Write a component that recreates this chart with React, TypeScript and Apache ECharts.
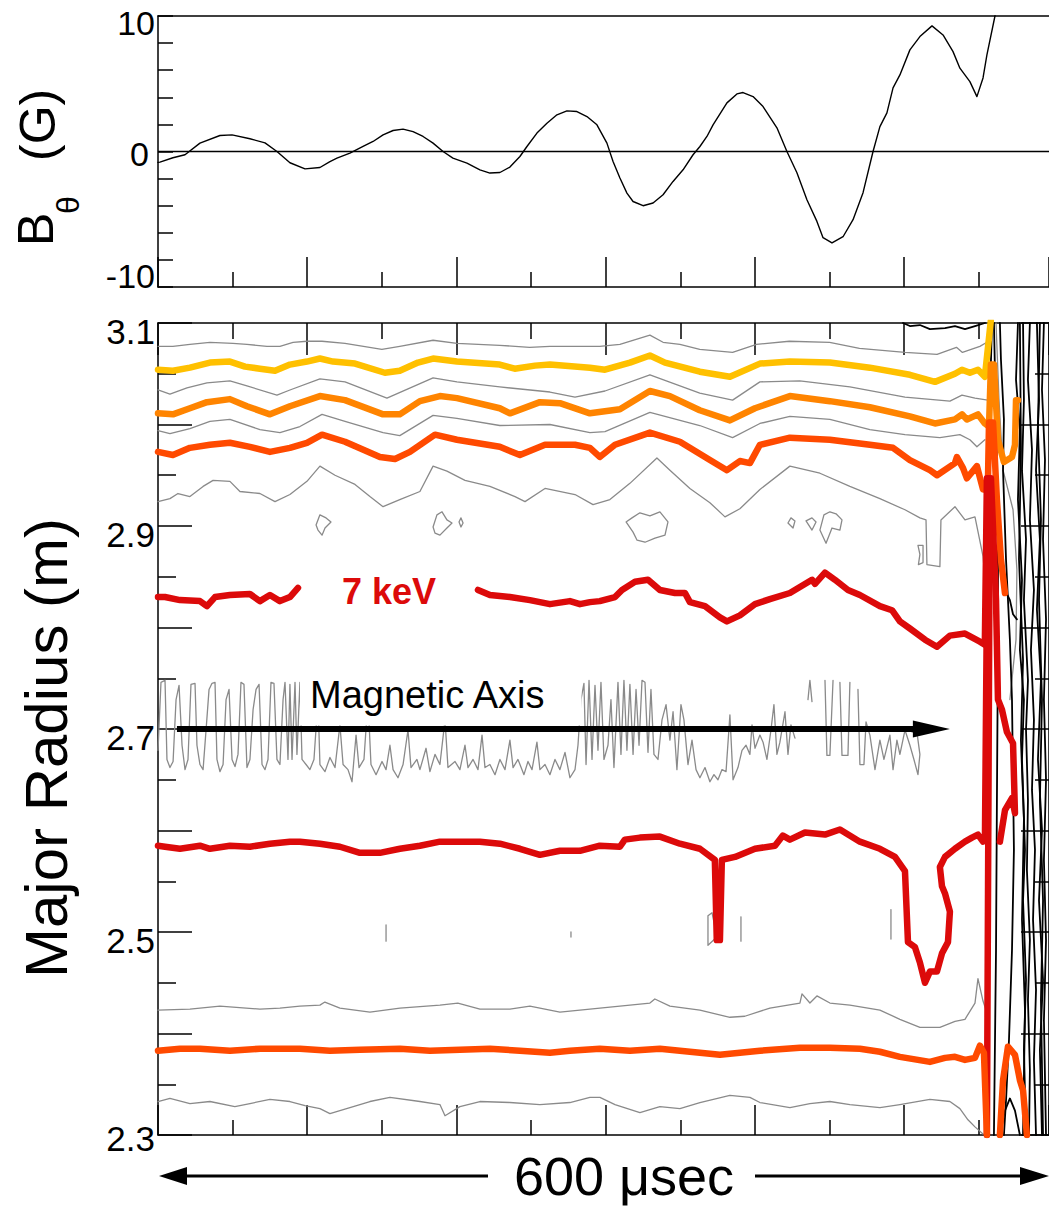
import React, { useEffect, useRef } from 'react';
import * as echarts from 'echarts';

type Pt = [number, number];

const FONT = '"Liberation Sans", Arial, Helvetica, sans-serif';
const T_MAX = 597; // µs across the plotted window

// ---------- top panel: B_theta (G) vs time (µs) ----------
const B_LABELS = [-10, 0, 10];
const B_THETA: Pt[] = [[0,-0.8],[1.3,-0.78],[10,-0.46],[18.1,-0.24],[28.1,0.62],[41.5,1.18],[49.6,1.23],[61.6,0.94],[71.7,0.64],[79.7,0],[88.4,-0.83],[98.5,-1.28],[108.5,-1.18],[115.2,-0.74],[119.9,-0.49],[128.6,-0.12],[137.4,0.37],[144.1,0.74],[150.8,1.23],[157.5,1.55],[164.2,1.65],[170.9,1.47],[177.6,1.11],[184.3,0.62],[191,0],[197.6,-0.49],[207,-0.86],[215.7,-1.35],[222.4,-1.59],[229.1,-1.55],[235.8,-1.15],[242.5,-0.37],[247.2,0.37],[253.9,1.36],[260.6,2.09],[267.3,2.71],[274,3.0],[280.7,2.95],[287.4,2.58],[294.1,1.97],[300.8,0.62],[304.9,-0.74],[309.5,-1.96],[314.2,-3.07],[318.3,-3.69],[325,-4.0],[331.7,-3.8],[338.4,-3.19],[345.1,-2.21],[351.8,-1.35],[358.5,-0.24],[363.1,0.37],[367.8,1.11],[371.9,1.97],[381.2,3.59],[387.9,4.25],[392,4.35],[398.7,4.05],[405.4,3.32],[414.7,1.75],[421.4,0],[428.1,-1.57],[434.8,-3.56],[441.5,-5.16],[445.6,-6.36],[451.6,-6.75],[459,-6.29],[465.7,-5.03],[472.4,-3.04],[479.1,0],[483.7,1.84],[488.4,2.85],[492.5,4.7],[497.1,5.65],[503.8,7.5],[510.5,8.48],[518.6,9.27],[526,8.6],[532.7,7.37],[537.3,6.15],[544,5.16],[548.7,4.05],[552.8,5.43],[555.4,7.13],[560.8,10.0],[562,10.8]];

// ---------- bottom panel: contours, Major Radius (m) vs time (µs) ----------
const R_LABELS = [2.3, 2.5, 2.7, 2.9, 3.1];
const AXIS_R = 2.70;
const AXIS_ARROW: Pt = [12.7, 518.2]; // start / head-centre time of the magnetic-axis arrow

const GRAY_A: Pt[] = [[0,3.077],[10,3.077],[21.4,3.079],[34.8,3.081],[50.2,3.080],[59.6,3.079],[73,3.077],[81.7,3.077],[90.5,3.081],[99.8,3.082],[109.9,3.082],[125.3,3.080],[150,3.074],[162,3.077],[184.3,3.083],[200.3,3.080],[229,3.078],[249,3.076],[262.6,3.077],[296,3.077],[309.5,3.079],[329.6,3.088],[338.4,3.081],[349.7,3.079],[363,3.074],[385,3.071],[401,3.079],[423,3.082],[450,3.081],[470,3.075],[500.5,3.071],[522,3.069],[535,3.076],[539,3.071],[550.7,3.077],[555.4,3.081]];
const YELLOW: Pt[] = [[0,3.054],[10,3.053],[21.4,3.056],[34.8,3.061],[48.2,3.062],[58.3,3.057],[68.3,3.055],[78.4,3.053],[88.4,3.059],[99.8,3.062],[108.5,3.065],[117.3,3.062],[132,3.060],[152,3.051],[162,3.053],[174.2,3.061],[184.3,3.065],[200.3,3.062],[229,3.059],[239,3.055],[252.6,3.058],[262.6,3.059],[289.4,3.056],[299.5,3.054],[316.2,3.061],[329.6,3.068],[339.7,3.061],[363,3.052],[383.2,3.047],[403.3,3.060],[423.4,3.062],[450.2,3.061],[477,3.056],[503.8,3.049],[520.6,3.042],[534,3.050],[538.7,3.054],[544,3.051],[549.4,3.054],[554,3.047],[558,3.102]];
const GRAY_C: Pt[] = [[0,3.034],[8,3.030],[19.4,3.036],[32.8,3.041],[48.2,3.043],[59.6,3.038],[79.7,3.029],[88.4,3.034],[108.5,3.045],[125.3,3.042],[153.4,3.026],[184.3,3.046],[200.3,3.042],[229,3.037],[262.6,3.032],[279.4,3.027],[299.5,3.033],[329.6,3.049],[363,3.031],[385,3.024],[403.3,3.042],[430,3.043],[463.6,3.037],[500.5,3.027],[530.6,3.023],[538.7,3.029],[547.4,3.026],[556,3.024]];
const ORANGE: Pt[] = [[0,3.011],[10,3.010],[21.4,3.016],[32.8,3.022],[48.2,3.025],[59.6,3.018],[75,3.010],[88.4,3.018],[108.5,3.028],[125.3,3.024],[150.8,3.010],[162,3.010],[175.5,3.023],[188.9,3.028],[200.3,3.026],[229,3.016],[235.8,3.011],[255.9,3.022],[269.3,3.021],[289.4,3.011],[309.5,3.015],[329.6,3.033],[343,3.028],[363,3.014],[383.2,3.004],[400,3.016],[423.4,3.028],[450.2,3.023],[477,3.017],[503.8,3.008],[520.6,3.001],[534,3.005],[538.7,3.010],[542,3.005],[549.4,3.010],[554,3.001],[556.8,2.998],[558.1,3.059],[560.1,3.059],[562.8,2.985],[566.8,2.963],[572.2,2.968],[574.2,2.980],[574.9,3.024],[576.2,3.024]];
const GRAY_E: Pt[] = [[0,2.994],[8,2.991],[21.4,2.996],[34.8,3.003],[48.2,3.005],[68.3,2.995],[81.7,2.992],[95.1,2.998],[109.9,3.010],[125.3,3.003],[150.8,2.992],[162,2.989],[184.3,3.009],[200.3,3.006],[229,2.999],[262.6,3.000],[289.4,2.992],[299.5,2.993],[329.6,3.012],[363,2.999],[385,2.987],[403.3,3.001],[423.4,3.008],[450.2,3.005],[477,2.995],[500.5,2.990],[523.9,2.987],[537.3,2.990],[544,2.985],[548.7,2.978],[554,2.985]];
const REDORANGE_UP: Pt[] = [[0,2.973],[10,2.970],[21.4,2.977],[34.8,2.980],[48.2,2.982],[61.6,2.978],[75,2.973],[88.4,2.977],[99.8,2.982],[109.9,2.990],[125.3,2.983],[148.7,2.968],[158.8,2.966],[168.8,2.973],[185.6,2.990],[200.3,2.985],[229,2.978],[242.5,2.970],[259.3,2.980],[279.4,2.980],[289.4,2.977],[296,2.968],[306.2,2.980],[329.6,2.992],[349.7,2.983],[369.8,2.965],[381.2,2.955],[389.9,2.964],[396.6,2.962],[403.3,2.980],[423.4,2.987],[450.2,2.985],[477,2.980],[492.5,2.977],[503.8,2.965],[517.2,2.955],[522,2.950],[534,2.962],[535.3,2.968],[539.4,2.957],[542,2.947],[548.7,2.959],[552.8,2.936],[556,2.936],[556.8,3.002],[559.5,3.002],[562.1,2.926],[564.8,2.867],[567.5,2.834]];
const GRAY_G: Pt[] = [[0,2.924],[8,2.927],[13.4,2.932],[21.4,2.929],[30.2,2.939],[36.9,2.945],[48.2,2.944],[54.9,2.934],[68.3,2.932],[78.4,2.924],[88.4,2.931],[99.8,2.944],[108.5,2.959],[118.6,2.950],[132,2.941],[142,2.929],[150.8,2.919],[162,2.926],[175.5,2.934],[184.3,2.959],[193.6,2.954],[205.7,2.945],[222.4,2.939],[239.2,2.929],[245.9,2.924],[259.3,2.937],[279.4,2.931],[291.5,2.921],[302.8,2.926],[316.2,2.942],[334.3,2.967],[343,2.955],[356.4,2.937],[369.8,2.923],[379.9,2.909],[389.9,2.917],[403.3,2.936],[423.4,2.959],[443.5,2.952],[463.6,2.939],[483.7,2.927],[500.5,2.916],[510.5,2.908],[514.6,2.906],[515.2,2.862],[523.9,2.860],[524.6,2.906],[534,2.919],[540.7,2.906],[547.4,2.909],[552.8,2.870],[555.4,2.827]];
const ISLANDS: Pt[][] = [
  [[105.9,2.901],[108.5,2.911],[112.6,2.908],[115.9,2.904],[111.9,2.898],[109.9,2.891],[107.2,2.896],[105.9,2.901]],
  [[184.3,2.899],[186.9,2.911],[190.3,2.914],[193.6,2.906],[197,2.903],[193.6,2.898],[188.9,2.891],[185.6,2.893],[184.3,2.899]],
  [[201.7,2.904],[203,2.908],[204.4,2.903],[203,2.899],[201.7,2.904]],
  [[313.6,2.904],[317.6,2.908],[322.9,2.913],[329.6,2.910],[336.3,2.914],[341.7,2.904],[339.7,2.891],[333,2.888],[326.3,2.884],[321,2.886],[318.3,2.894],[313.6,2.904]],
  [[422.1,2.903],[424.1,2.908],[426.8,2.905],[425.5,2.898],[422.1,2.903]],
  [[434.2,2.905],[438.2,2.908],[440.9,2.904],[438.2,2.896],[434.2,2.905]],
  [[443.5,2.896],[446.2,2.911],[450.2,2.914],[454.3,2.912],[458.3,2.906],[456.9,2.896],[451.6,2.898],[447.6,2.883],[443.5,2.896]],
  [[509.2,2.881],[510.5,2.872],[509.5,2.862],[512.6,2.864],[512.6,2.881],[509.2,2.881]],
];
const RED_7KEV_LEFT: Pt[] = [[0,2.830],[4.7,2.830],[14.7,2.827],[28.1,2.826],[32.8,2.821],[38.2,2.830],[48.2,2.832],[61.6,2.833],[68.3,2.826],[75,2.832],[81.7,2.826],[88.4,2.830],[93.8,2.839]];
const RED_7KEV_RIGHT: Pt[] = [[214.4,2.837],[222.4,2.832],[235.8,2.830],[249.2,2.827],[262.6,2.823],[276,2.826],[282.7,2.823],[289.4,2.825],[296,2.826],[306.2,2.830],[310.9,2.837],[319.6,2.845],[328.3,2.847],[336.3,2.837],[346.4,2.834],[353.1,2.834],[356.4,2.825],[366.5,2.821],[376.5,2.810],[381.2,2.806],[389.9,2.812],[400,2.823],[410,2.828],[423.4,2.834],[438.2,2.847],[440.2,2.843],[446.9,2.854],[453.6,2.847],[462.3,2.837],[470.3,2.832],[483.7,2.821],[491.8,2.817],[497.1,2.806],[503.8,2.799],[513.9,2.788],[521.9,2.781],[530.6,2.792],[540.7,2.794],[550.7,2.786],[554,2.783],[555.4,2.947],[558.1,2.947],[561.5,2.827],[562.8,2.729],[565.5,2.719],[568.8,2.697],[572.9,2.686],[574.2,2.617],[572.2,2.632],[567.5,2.620],[564.1,2.589]];
const GRAY_AXIS_BAND: Pt[] = [[0,2.679],[2.0,2.746],[4.7,2.748],[6.0,2.670],[8.0,2.662],[10.1,2.668],[12.1,2.729],[14.1,2.743],[16.1,2.684],[18.1,2.660],[20.1,2.670],[22.1,2.744],[24.8,2.745],[26.1,2.684],[28.1,2.665],[30.2,2.660],[32.2,2.699],[34.2,2.739],[36.2,2.745],[38.2,2.746],[39.5,2.670],[41.5,2.658],[43.6,2.665],[45.6,2.729],[47.6,2.739],[49.6,2.670],[51.6,2.663],[53.6,2.675],[55.6,2.746],[57.6,2.744],[59.6,2.662],[61.6,2.670],[63.7,2.719],[65.7,2.739],[67.7,2.744],[69.7,2.665],[71.7,2.660],[73.7,2.670],[75.7,2.746],[77.7,2.745],[79.7,2.670],[81.7,2.665],[83.8,2.729],[85.1,2.746],[87.1,2.670],[88.4,2.744],[89.8,2.670],[91.8,2.746],[93.1,2.675],[95.1,2.746],[96.5,2.670],[99.2,2.665],[101.8,2.660],[104.5,2.670],[107.2,2.729],[108.5,2.665],[111.9,2.658],[115.2,2.672],[118.6,2.662],[121.9,2.704],[124.0,2.665],[127.3,2.660],[130.0,2.648],[132.7,2.694],[134.7,2.662],[138.0,2.670],[140.7,2.729],[142.7,2.665],[146.1,2.655],[150.1,2.668],[152.8,2.660],[155.4,2.684],[157.5,2.660],[160.8,2.652],[164.2,2.665],[167.5,2.699],[169.5,2.662],[173.5,2.670],[175.5,2.660],[179.6,2.681],[182.2,2.658],[185.6,2.675],[188.9,2.665],[192.3,2.709],[194.3,2.662],[199.0,2.668],[202.3,2.660],[205.7,2.684],[207.7,2.662],[211.1,2.670],[214.4,2.660],[217.1,2.694],[219.1,2.662],[222.4,2.665],[225.8,2.655],[229.1,2.670],[232.5,2.660],[235.8,2.689],[237.9,2.662],[241.2,2.670],[245.2,2.655],[247.9,2.668],[250.6,2.660],[253.9,2.687],[255.9,2.660],[259.3,2.665],[262.6,2.655],[266.0,2.670],[269.3,2.660],[272.7,2.677],[276.0,2.652],[279.4,2.660],[281.4,2.684],[283.4,2.729],[285.4,2.745],[286.8,2.665],[288.8,2.748],[290.8,2.670],[292.8,2.743],[294.8,2.679],[296.8,2.746],[298.8,2.670],[301.5,2.684],[303.5,2.729],[305.5,2.662],[308.2,2.746],[310.2,2.675],[312.2,2.748],[314.2,2.679],[316.2,2.744],[318.3,2.675],[320.3,2.739],[322.3,2.684],[324.3,2.748],[326.3,2.746],[328.3,2.677],[330.3,2.739],[332.3,2.675],[335.0,2.670],[337.7,2.709],[340.4,2.724],[343.0,2.689],[345.1,2.717],[347.7,2.660],[350.4,2.724],[352.4,2.709],[355.1,2.665],[357.8,2.689],[360.5,2.660],[363.1,2.652],[366.5,2.662],[369.8,2.648],[372.5,2.655],[375.2,2.650],[377.9,2.660],[380.6,2.658],[383.2,2.714],[385.3,2.650],[388.6,2.662],[391.3,2.679],[394.0,2.684],[396.6,2.675],[398.0,2.704],[400.0,2.681],[403.3,2.694],[405.4,2.687],[408.0,2.670],[410.7,2.699],[412.7,2.724],[414.7,2.675],[416.7,2.687],[420.1,2.717],[422.1,2.675],[424.1,2.704],[426.8,2.691]];
const GRAY_AXIS_PIECES: Pt[][] = [
  [[435.5,2.729],[436.8,2.748],[438.2,2.727]],
  [[446.9,2.748],[448.2,2.674],[450.2,2.674],[452.3,2.748]],
  [[456.9,2.746],[458.3,2.674],[462.3,2.674],[463.6,2.746]],
  [[469,2.739],[470.3,2.665],[473,2.665],[474.4,2.707],[477,2.694],[480.4,2.660],[483.7,2.689],[486.4,2.670],[490.4,2.694],[492.5,2.660],[495.1,2.689],[497.1,2.675],[500.5,2.699],[503.8,2.684],[506.5,2.670],[509.2,2.655],[510.5,2.675],[508.5,2.697],[505.2,2.697]],
];
const RED_LOW: Pt[] = [[0,2.585],[4.7,2.584],[14.7,2.582],[28.1,2.585],[34.8,2.582],[48.2,2.585],[61.6,2.584],[75,2.587],[88.4,2.589],[95.1,2.589],[108.5,2.587],[121.9,2.584],[135.3,2.578],[148.7,2.578],[162.1,2.582],[175.5,2.585],[188.9,2.589],[202.3,2.589],[215.7,2.589],[229.1,2.587],[242.5,2.582],[255.9,2.576],[269.3,2.580],[282.7,2.580],[296,2.585],[309.5,2.584],[312.8,2.591],[322.9,2.593],[336.3,2.594],[349.7,2.587],[363.1,2.582],[373.1,2.571],[374.4,2.492],[376.5,2.492],[377.8,2.571],[386.6,2.574],[400,2.582],[413.4,2.585],[418.7,2.595],[423.4,2.591],[433.5,2.598],[446.9,2.596],[456.9,2.601],[470.3,2.589],[483.7,2.582],[493.8,2.574],[500.5,2.560],[502.5,2.490],[507.2,2.485],[510.5,2.470],[513.9,2.450],[517.2,2.461],[521.9,2.461],[525.3,2.479],[529.3,2.490],[530.6,2.520],[527.3,2.538],[525.3,2.545],[523.9,2.564],[527.3,2.574],[534,2.582],[540.7,2.589],[545.4,2.593],[549.4,2.596],[552.8,2.589],[554.1,2.595],[556.1,2.946],[557.4,2.946],[555.4,2.300]];
const GRAY_DASHES: Pt[][] = [
  [[152.8,2.507],[152.8,2.491]],
  [[276.7,2.500],[276.7,2.495]],
  [[368.5,2.516],[371.2,2.519],[374.5,2.495],[368.5,2.487],[368.5,2.516]],
  [[390.6,2.515],[390.6,2.491]],
  [[491.1,2.522],[491.1,2.493]],
];
const GRAY_M: Pt[] = [[0,2.423],[21.4,2.424],[41.5,2.427],[68.3,2.424],[81.7,2.425],[95.1,2.427],[108.5,2.428],[111.8,2.431],[121.9,2.425],[142,2.421],[162.1,2.425],[188.9,2.428],[200.9,2.430],[215.7,2.424],[235.8,2.424],[249.2,2.427],[269.3,2.421],[282.7,2.423],[309.5,2.427],[329.6,2.430],[332.9,2.434],[343,2.427],[363.1,2.423],[383.2,2.416],[393.2,2.417],[410,2.425],[430.1,2.430],[431.5,2.439],[436.8,2.430],[441.5,2.437],[450.2,2.430],[463.6,2.428],[483.7,2.423],[497.1,2.414],[510.5,2.406],[523.9,2.406],[534,2.412],[540.7,2.414],[547.4,2.430],[549.4,2.454],[552.8,2.432],[554.8,2.423]];
const REDORANGE_LOW: Pt[] = [[0,2.383],[14.7,2.385],[28.1,2.385],[48.2,2.383],[68.3,2.385],[95.1,2.385],[115.2,2.383],[135.3,2.384],[162.1,2.385],[182.2,2.383],[202.3,2.384],[222.4,2.385],[242.5,2.383],[262.6,2.381],[276,2.383],[296,2.385],[316.2,2.383],[336.3,2.385],[356.4,2.382],[376.5,2.379],[389.9,2.381],[403.3,2.383],[430.1,2.386],[450.2,2.386],[470.3,2.385],[483.7,2.382],[497.1,2.377],[517.2,2.372],[527.3,2.376],[534,2.377],[540.7,2.374],[547.4,2.376],[550.7,2.388],[553.4,2.381],[555.4,2.300]];
const REDORANGE_ARCH: Pt[] = [[564.1,2.300],[566.2,2.354],[569.5,2.387],[574.2,2.379],[577.5,2.354],[579.6,2.344],[582.2,2.300]];
const GRAY_O: Pt[] = [[0,2.333],[8,2.336],[21.4,2.331],[34.8,2.333],[51.5,2.328],[61.6,2.331],[75,2.335],[88.4,2.333],[98.5,2.329],[108.5,2.326],[115.2,2.321],[128.6,2.327],[142,2.333],[155.4,2.337],[175.5,2.333],[188.9,2.330],[192.3,2.319],[202.3,2.328],[215.7,2.333],[235.8,2.332],[255.9,2.330],[276,2.332],[289.4,2.337],[296.1,2.337],[306.2,2.330],[322.9,2.322],[336.3,2.328],[349.7,2.326],[363.1,2.332],[383.2,2.339],[396.6,2.337],[403.3,2.332],[423.4,2.327],[436.8,2.331],[450.2,2.333],[463.6,2.330],[483.7,2.327],[497.1,2.330],[517.2,2.335],[530.6,2.333],[537.3,2.326],[542.7,2.315],[547.4,2.308],[552.8,2.301]];
const GRAY_CRASH: Pt[] = [[561.5,3.100],[563.5,3.024],[566.2,2.955],[572.9,2.916],[575.5,2.857],[574.9,2.788],[570.8,2.729]];
const BLACK_CRASH: Pt[][] = [
  [[558.8,3.100],[557.4,3.024],[556.1,2.946],[555.4,2.827],[554.8,2.630],[554.8,2.433],[555.4,2.300]],
  [[560.1,3.100],[561.5,3.005],[562.8,2.906],[562.8,2.778],[562.1,2.630],[561.5,2.482],[560.1,2.300]],
  [[564.1,3.100],[564.8,3.064],[566.8,3.005],[566.2,2.955],[568.2,2.867],[570.8,2.788],[572.2,2.729],[572.9,2.650],[573.5,2.581],[572.2,2.482],[570.2,2.394],[568.2,2.334],[566.8,2.300]],
  [[576.2,3.100],[574.9,3.044],[577.5,2.995],[576.2,2.926],[578.9,2.847],[577.5,2.778],[580.2,2.729],[578.9,2.670],[580.9,2.581],[579.6,2.531],[581.6,2.453],[580.2,2.384],[581.6,2.300]],
  [[577.5,3.100],[578.2,2.975],[576.9,2.867],[579.6,2.768],[578.2,2.689],[580.2,2.611],[578.9,2.512],[580.9,2.423],[579.6,2.300]],
  [[579.6,3.100],[580.2,3.024],[578.9,2.955],[581.6,2.887],[580.2,2.827],[582.9,2.748],[581.6,2.699],[582.9,2.630],[582.2,2.561],[584.2,2.492],[582.9,2.433],[584.2,2.364],[583.6,2.300]],
  [[584.2,3.100],[582.9,3.044],[585.6,2.975],[584.2,2.906],[586.9,2.837],[584.9,2.778],[586.9,2.709],[585.6,2.640],[587.6,2.581],[586.3,2.512],[588.3,2.443],[586.9,2.374],[588.3,2.300]],
  [[588.9,3.100],[590.3,3.024],[588.3,2.955],[590.9,2.887],[588.9,2.818],[591.6,2.748],[589.6,2.670],[592.3,2.601],[590.3,2.531],[593,2.453],[590.9,2.384],[592.3,2.300]],
  [[590.9,3.100],[589.6,2.995],[591.6,2.906],[590.3,2.827],[592.3,2.729],[590.9,2.630],[593,2.531],[591.6,2.433],[593,2.300]],
  [[593.6,3.100],[592.3,3.034],[594.3,2.965],[593,2.887],[595,2.808],[593.6,2.729],[595,2.650],[593.6,2.571],[595,2.492],[593.6,2.413],[595,2.300]],
  [[564.1,2.300],[567.5,2.324],[570.8,2.336],[574.2,2.324],[577.5,2.300]],
  [[567.5,2.837],[570.8,2.827],[572.9,2.813],[575.5,2.808]],
  [[499.2,3.100],[503.8,3.097],[510.5,3.098],[517.2,3.094],[527.3,3.095],[534,3.097],[540.7,3.094],[547.4,3.097],[554.1,3.100]],
];

const GRAY = '#8a8a8a';
const C_YELLOW = '#FFC000';
const C_ORANGE = '#FF8400';
const C_REDORANGE = '#FF4A00';
const C_RED = '#DC0A0A';

function lineSeries(data: Pt[], color: string, width: number, z = 2, top = false) {
  return {
    type: 'line',
    data,
    xAxisIndex: top ? 0 : 2,
    yAxisIndex: top ? 0 : 1,
    showSymbol: false,
    symbol: 'none',
    silent: true,
    z,
    lineStyle: { color, width, join: 'round', cap: 'round' },
    emphasis: { disabled: true },
  };
}

const AX_LINE = { color: '#000', width: 1.5 };

export default function App() {
  const ref = useRef<HTMLDivElement>(null);
  useEffect(() => {
    document.body.style.margin = '0';
    if (!ref.current) return;
    const chart = echarts.init(ref.current, undefined, { renderer: 'svg' });

    const series: any[] = [];
    // top panel
    series.push({
      ...lineSeries(B_THETA, '#000', 1.4, 3, true),
      markLine: {
        silent: true, symbol: 'none', label: { show: false },
        lineStyle: { color: '#000', width: 1.3, type: 'solid' },
        data: [{ yAxis: 0 }],
      },
    });
    // bottom panel gray contours
    [GRAY_A, GRAY_C, GRAY_E, GRAY_G, GRAY_M, GRAY_O, GRAY_CRASH, GRAY_AXIS_BAND].forEach((d) =>
      series.push(lineSeries(d, GRAY, 1.3, 2)));
    [...ISLANDS, ...GRAY_AXIS_PIECES, ...GRAY_DASHES].forEach((d) => series.push(lineSeries(d, GRAY, 1.3, 2)));
    // black crash contours
    BLACK_CRASH.forEach((d) => series.push(lineSeries(d, '#000', 1.8, 3)));
    // coloured levels
    series.push(lineSeries(YELLOW, C_YELLOW, 6.5, 4));
    series.push(lineSeries(ORANGE, C_ORANGE, 6.5, 4));
    series.push(lineSeries(REDORANGE_UP, C_REDORANGE, 6.5, 4));
    series.push(lineSeries(RED_7KEV_LEFT, C_RED, 6.5, 4));
    series.push(lineSeries(RED_7KEV_RIGHT, C_RED, 6.5, 4));
    series.push(lineSeries(RED_LOW, C_RED, 6.5, 4));
    series.push(lineSeries(REDORANGE_LOW, C_REDORANGE, 6.5, 4));
    series.push(lineSeries(REDORANGE_ARCH, C_REDORANGE, 6.5, 4));
    // magnetic axis arrow: shaft + head
    series.push({
      type: 'line', xAxisIndex: 2, yAxisIndex: 1, data: [], silent: true, z: 6,
      markLine: {
        silent: true, z: 6, animation: false,
        symbol: ['none', 'none'],
        label: { show: false },
        lineStyle: { color: '#000', width: 6, type: 'solid', opacity: 1 },
        data: [[{ coord: [AXIS_ARROW[0], AXIS_R] }, { coord: [AXIS_ARROW[1], AXIS_R] }]],
      },
    });
    series.push({
      type: 'scatter', xAxisIndex: 2, yAxisIndex: 1, silent: true, z: 7,
      data: [[AXIS_ARROW[1], AXIS_R]],
      symbol: 'triangle', symbolSize: [17, 37], symbolRotate: -90,
      itemStyle: { color: '#000', opacity: 1 },
      emphasis: { disabled: true },
    });

    const tickStyle = { color: '#000', width: 1.5 };

    chart.setOption({
      animation: false,
      backgroundColor: '#fff',
      grid: [
        { left: 158, top: 16, width: 891, height: 271, containLabel: false, outerBoundsMode: 'none' },
        { left: 158, top: 323, width: 891, height: 812, containLabel: false, outerBoundsMode: 'none' },
      ],
      xAxis: [
        {
          gridIndex: 0, type: 'value', min: 0, max: T_MAX, interval: 100, position: 'bottom',
          axisLine: { show: true, onZero: false, lineStyle: AX_LINE },
          axisTick: { show: true, inside: true, length: 30, lineStyle: tickStyle },
          minorTick: { show: true, splitNumber: 2, length: 15, lineStyle: tickStyle },
          axisLabel: { show: false }, splitLine: { show: false }, minorSplitLine: { show: false },
        },
        {
          gridIndex: 0, type: 'value', min: 0, max: T_MAX, position: 'top',
          axisLine: { show: true, onZero: false, lineStyle: AX_LINE },
          axisTick: { show: false }, axisLabel: { show: false }, splitLine: { show: false },
        },
        {
          gridIndex: 1, type: 'value', min: 0, max: T_MAX, interval: 100, position: 'bottom',
          axisLine: { show: true, onZero: false, lineStyle: AX_LINE },
          axisTick: { show: true, inside: true, length: 30, lineStyle: tickStyle },
          minorTick: { show: true, splitNumber: 2, length: 15, lineStyle: tickStyle },
          axisLabel: { show: false }, splitLine: { show: false }, minorSplitLine: { show: false },
        },
        {
          gridIndex: 1, type: 'value', min: 0, max: T_MAX, interval: 100, position: 'top',
          axisLine: { show: true, onZero: false, lineStyle: AX_LINE },
          axisTick: { show: true, inside: true, length: 32, lineStyle: tickStyle },
          minorTick: { show: true, splitNumber: 2, length: 16, lineStyle: tickStyle },
          axisLabel: { show: false }, splitLine: { show: false }, minorSplitLine: { show: false },
        },
      ],
      yAxis: [
        {
          gridIndex: 0, type: 'value', min: -10, max: 10, interval: 2, position: 'left',
          axisLine: { show: true, onZero: false, lineStyle: AX_LINE },
          axisTick: { show: true, inside: true, length: 15, lineStyle: tickStyle },
          splitLine: { show: false },
          axisLabel: {
            show: true, margin: 3, showMinLabel: true, showMaxLabel: true,
            formatter: (v: number) => {
              if (!B_LABELS.includes(v)) return '';
              if (v === 10) return '{t|10}';
              if (v === 0) return '{z|0}';
              return '{b|-10}';
            },
            rich: {
              t: { fontSize: 34, fontFamily: FONT, color: '#000', padding: [14, 0, 0, 0] },
              z: { fontSize: 34, fontFamily: FONT, color: '#000', padding: [4, 6, 0, 0] },
              b: { fontSize: 34, fontFamily: FONT, color: '#000', padding: [0, 0, 23, 0] },
            },
          },
        },
        {
          gridIndex: 1, type: 'value', min: 2.3, max: 3.1, interval: 0.1, position: 'left',
          axisLine: { show: true, onZero: false, lineStyle: AX_LINE },
          axisTick: { show: true, inside: true, length: 34, lineStyle: tickStyle },
          minorTick: { show: true, splitNumber: 2, length: 18, lineStyle: tickStyle },
          splitLine: { show: false }, minorSplitLine: { show: false },
          axisLabel: {
            show: true, margin: 3, showMinLabel: true, showMaxLabel: true,
            formatter: (v: number) => {
              const k = Math.round(v * 10);
              if (!R_LABELS.some((r) => Math.round(r * 10) === k)) return '';
              const txt = (k / 10).toFixed(1);
              return k === 23 ? `{lo|${txt}}` : `{n|${txt}}`;
            },
            rich: {
              n: { fontSize: 35, fontFamily: FONT, color: '#000', padding: [16, 0, 0, 0] },
              lo: { fontSize: 35, fontFamily: FONT, color: '#000', padding: [6, 0, 0, 0] },
            },
          },
        },
        {
          gridIndex: 1, type: 'value', min: 2.3, max: 3.1, interval: 0.1, position: 'right',
          axisLine: { show: true, onZero: false, lineStyle: AX_LINE },
          axisTick: { show: true, inside: true, length: 28, lineStyle: tickStyle },
          minorTick: { show: true, splitNumber: 2, length: 14, lineStyle: tickStyle },
          splitLine: { show: false }, minorSplitLine: { show: false },
          axisLabel: { show: false },
        },
      ],
      series,
      graphic: [
        {
          type: 'text', x: 46, y: 748, rotation: Math.PI / 2, silent: true,
          style: { text: 'Major Radius (m)', fontSize: 60, fontFamily: FONT, fill: '#000', align: 'center', verticalAlign: 'middle' },
        },
        {
          type: 'text', x: 36, y: 246, rotation: Math.PI / 2, silent: true,
          style: { text: 'B', fontSize: 50, fontFamily: FONT, fill: '#000', align: 'left', verticalAlign: 'middle' },
        },
        {
          type: 'text', x: 68, y: 214, rotation: Math.PI / 2, silent: true,
          style: { text: 'θ', fontSize: 32, fontFamily: FONT, fill: '#000', align: 'left', verticalAlign: 'middle' },
        },
        {
          type: 'text', x: 38, y: 161, rotation: Math.PI / 2, silent: true,
          style: { text: '(G)', fontSize: 50, fontFamily: FONT, fill: '#000', align: 'left', verticalAlign: 'middle' },
        },
        {
          type: 'text', x: 389, y: 591, silent: true, z: 5,
          style: { text: '7 keV', fontSize: 36, fontWeight: 'bold', fontFamily: FONT, fill: C_RED, align: 'center', verticalAlign: 'middle' },
        },
        {
          type: 'text', x: 300, y: 695, silent: true, z: 5,
          style: {
            text: 'Magnetic Axis', fontSize: 38, fontFamily: FONT, fill: '#000', align: 'left', verticalAlign: 'middle',
            backgroundColor: '#fff', padding: [11, 35, 12, 10],
          },
        },
        { type: 'line', silent: true, shape: { x1: 184, y1: 1176, x2: 488, y2: 1176 }, style: { stroke: '#000', lineWidth: 3 } },
        { type: 'polygon', silent: true, shape: { points: [[159, 1176], [187, 1167], [187, 1185]] }, style: { fill: '#000' } },
        { type: 'line', silent: true, shape: { x1: 755, y1: 1176, x2: 1022, y2: 1176 }, style: { stroke: '#000', lineWidth: 3 } },
        { type: 'polygon', silent: true, shape: { points: [[1049, 1176], [1020, 1167], [1020, 1185]] }, style: { fill: '#000' } },
        {
          type: 'text', x: 624, y: 1176, silent: true,
          style: { text: '600 μsec', fontSize: 54, fontFamily: FONT, fill: '#000', align: 'center', verticalAlign: 'middle' },
        },
      ],
    });
    return () => chart.dispose();
  }, []);
  return <div ref={ref} style={{ position: 'absolute', left: 0, top: 0, width: 1049, height: 1208 }} />;
}
